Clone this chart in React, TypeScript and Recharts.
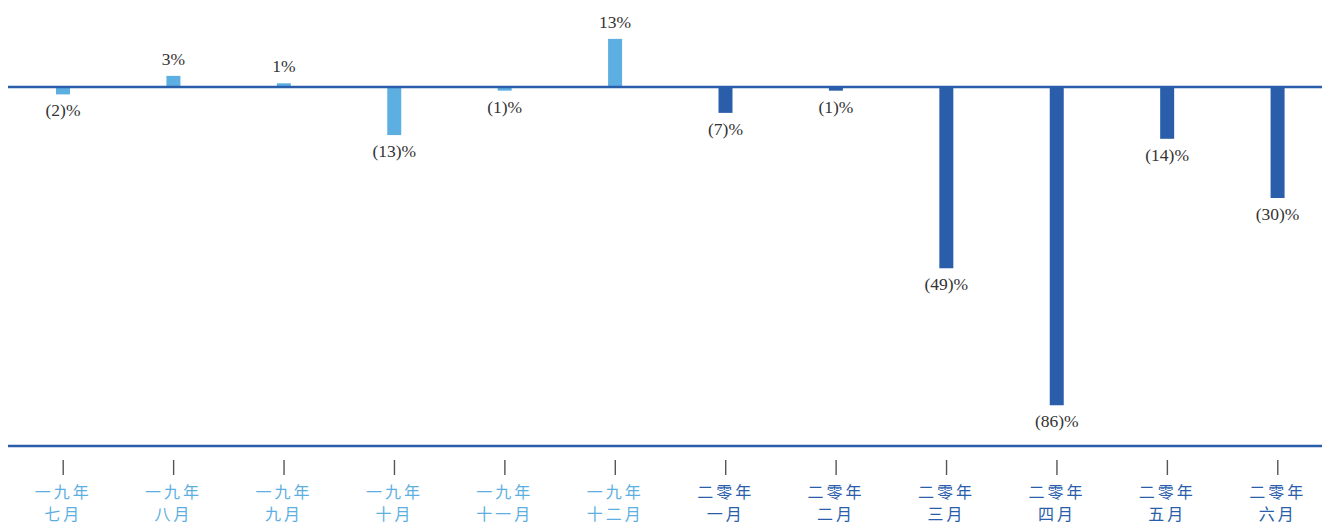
import React from "react";
import { BarChart, Bar, XAxis, YAxis, Cell, LabelList, ReferenceLine } from "recharts";

const years = ["一九年", "一九年", "一九年", "一九年", "一九年", "一九年", "二零年", "二零年", "二零年", "二零年", "二零年", "二零年"];
const months = ["七月", "八月", "九月", "十月", "十一月", "十二月", "一月", "二月", "三月", "四月", "五月", "六月"];
const changes = [-2, 3, 1, -13, -1, 13, -7, -1, -49, -86, -14, -30];

const LIGHT = "#5DAFE2";
const DARK = "#2A5EAB";

const data = changes.map((v, i) => ({ key: i, year: years[i], month: months[i], value: v }));

const colorFor = (year: string) => (year === "一九年" ? LIGHT : DARK);

function fmt(v: number) {
  return v < 0 ? `(${Math.abs(v)})%` : `${v}%`;
}

function ValueLabel(props: any) {
  const { x, y, width, height, value } = props;
  const cx = x + width / 2;
  const neg = value < 0;
  const top = Math.min(y, y + height);
  const bottom = Math.max(y, y + height);
  const ty = neg ? bottom + 22 : top - 11;
  return (
    <text x={cx} y={ty} textAnchor="middle" fontFamily="'Liberation Serif', serif" fontSize={17.5} fill="#333">
      {fmt(value)}
    </text>
  );
}

function CategoryTick(props: any) {
  const { x, y, payload } = props;
  const d = data[payload.value];
  const c = colorFor(d.year);
  const font = "'Noto Sans CJK SC', sans-serif";
  return (
    <g>
      <line x1={x} x2={x} y1={y + 6} y2={y + 21} stroke="#555" strokeWidth={1.4} />
      <text x={x} y={y + 44} textAnchor="middle" fontFamily={font} fontSize={16} fontWeight={400} letterSpacing={3} fill={c}>
        {d.year}
      </text>
      <text x={x} y={y + 66} textAnchor="middle" fontFamily={font} fontSize={16} fontWeight={400} letterSpacing={3} fill={c}>
        {d.month}
      </text>
    </g>
  );
}

export default function App() {
  return (
    <div style={{ position: "absolute", left: 0, top: 0, width: 1322, height: 524, overflow: "hidden", background: "#fff" }}>
      <BarChart
        width={1333}
        height={524}
        data={data}
        margin={{ top: 0, right: 0, bottom: 0, left: 8 }}
        barCategoryGap={0}
      >
        <XAxis
          dataKey="key"
          type="category"
          axisLine={{ stroke: DARK, strokeWidth: 2.5 }}
          tickLine={false}
          height={78}
          interval={0}
          tick={<CategoryTick />}
        />
        <YAxis hide domain={[-97, 23.5]} allowDataOverflow />
        <ReferenceLine y={0} stroke={DARK} strokeWidth={2.5} ifOverflow="extendDomain" />
        <Bar dataKey="value" barSize={14} isAnimationActive={false}>
          {data.map((d) => (
            <Cell key={d.key} fill={colorFor(d.year)} />
          ))}
          <LabelList dataKey="value" content={<ValueLabel />} />
        </Bar>
      </BarChart>
    </div>
  );
}
